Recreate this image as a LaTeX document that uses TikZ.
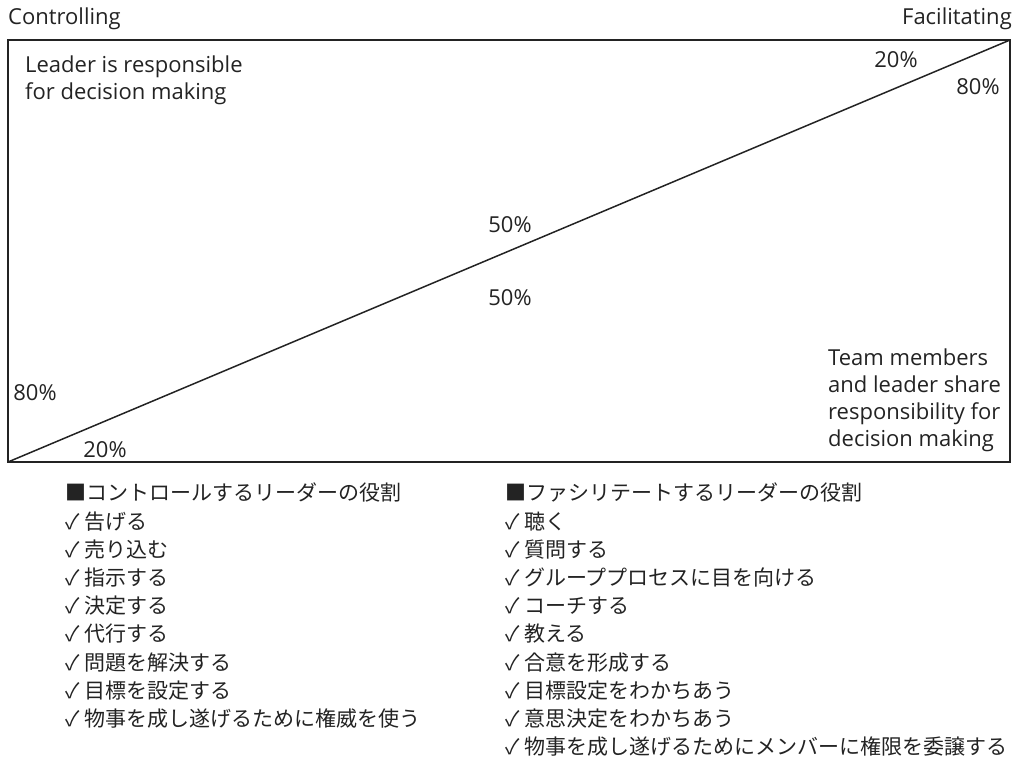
\documentclass[tikz,border=0pt]{standalone}
\usepackage{fontspec}
\setmainfont{Open Sans}
\newfontfamily\cjk{Noto Sans CJK JP}
\definecolor{ink}{RGB}{35,35,35}
\newcommand{\chk}{\makebox[19pt][l]{✓}}
\begin{document}
\begin{tikzpicture}[x=1pt,y=-1pt,
  lbl/.style={inner sep=0pt,text=ink,font=\fontsize{22}{27}\selectfont},
  jp/.style={inner sep=0pt,text=ink,anchor=west,font=\cjk\fontsize{21}{28.2}\selectfont,align=left},
  frame/.style={draw=ink,line width=1.5pt}]
\useasboundingbox (0,0) rectangle (1018,758);
\coordinate (bl) at (8,462);
\coordinate (tr) at (1010,40);
\draw[frame] (bl) rectangle (tr);
\draw[frame] (bl) -- (tr);
\node[lbl,anchor=west] (ctrl) at (8,18.5) {Controlling};
\node[lbl,anchor=east] (fac) at (1012,18.5) {Facilitating};
\node[lbl,anchor=north west,align=left] (leader) at (25,56) {Leader is responsible\\for decision making};
\node[lbl] (p20a) at (896,60) {20\%};
\node[lbl] (p80a) at (978,87) {80\%};
\node[lbl] (p50a) at (510,224.5) {50\%};
\node[lbl] (p50b) at (510,297.5) {50\%};
\node[lbl] (p80b) at (35,393) {80\%};
\node[lbl] (p20b) at (105,450) {20\%};
\node[lbl,anchor=north west,align=left] (team) at (828,349) {Team members\\and leader share\\responsibility for\\decision making};
\node[jp,anchor=north west] (left) at (65,483) {■コントロールするリーダーの役割\\\chk 告げる\\\chk 売り込む\\\chk 指示する\\\chk 決定する\\\chk 代行する\\\chk 問題を解決する\\\chk 目標を設定する\\\chk 物事を成し遂げるために権威を使う};
\node[jp,anchor=north west] (right) at (505,483) {■ファシリテートするリーダーの役割\\\chk 聴く\\\chk 質問する\\\chk グループプロセスに目を向ける\\\chk コーチする\\\chk 教える\\\chk 合意を形成する\\\chk 目標設定をわかちあう\\\chk 意思決定をわかちあう\\\chk 物事を成し遂げるためにメンバーに権限を委譲する};
\end{tikzpicture}
\end{document}
